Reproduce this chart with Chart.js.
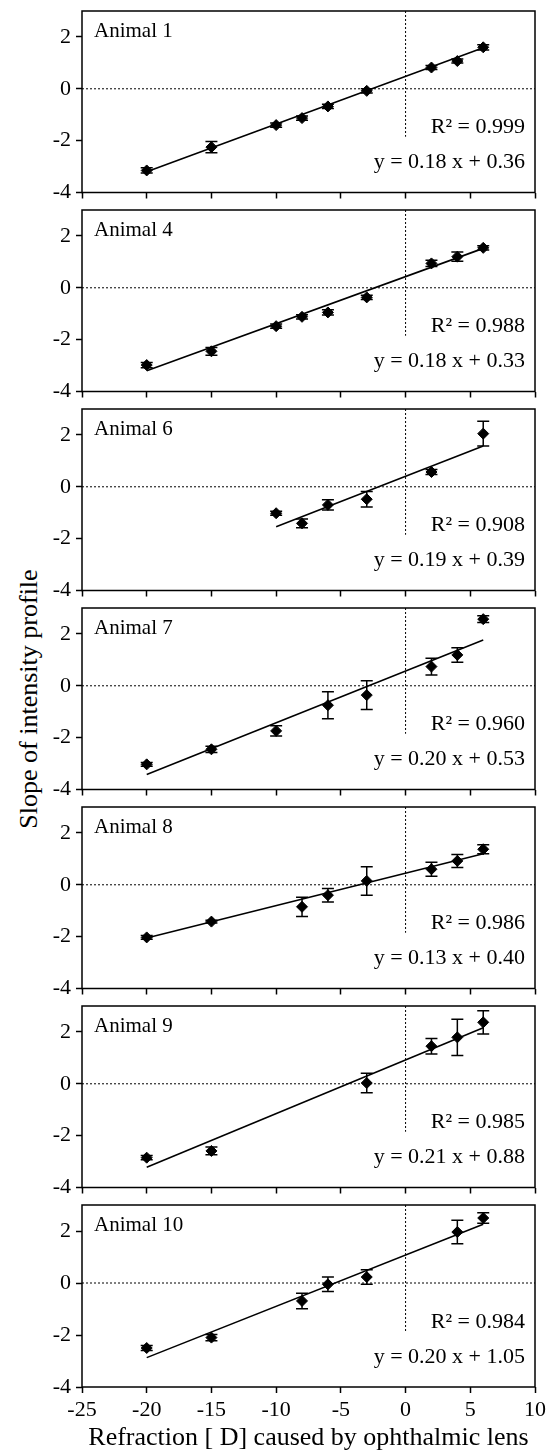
<!DOCTYPE html>
<html><head><meta charset="utf-8">
<script src="https://cdn.jsdelivr.net/npm/chart.js@4.4.1/dist/chart.umd.min.js"></script>
<style>
html,body{margin:0;padding:0;background:#fff;}
#wrap{position:relative;width:554px;height:1455px;overflow:hidden;background:#fff;}
canvas{position:absolute;left:0;}
#ytitle{position:absolute;font-family:"Liberation Serif","Times New Roman",serif;font-size:26px;white-space:nowrap;left:29px;top:699px;transform:translate(-50%,-50%) rotate(-90deg);color:#000;line-height:1;}
</style></head>
<body><div id="wrap"><div id="ytitle">Slope of intensity profile</div></div>
<script>
// ---- data ----
const animalNames = ['Animal 1','Animal 4','Animal 6','Animal 7','Animal 8','Animal 9','Animal 10'];
const r2Labels = ['R\u00B2 = 0.999','R\u00B2 = 0.988','R\u00B2 = 0.908','R\u00B2 = 0.960','R\u00B2 = 0.986','R\u00B2 = 0.985','R\u00B2 = 0.984'];
const eqLabels = ['y = 0.18 x + 0.36','y = 0.18 x + 0.33','y = 0.19 x + 0.39','y = 0.20 x + 0.53','y = 0.13 x + 0.40','y = 0.21 x + 0.88','y = 0.20 x + 1.05'];

const x1 = [-20,-15,-10,-8,-6,-3,2,4,6];
const y1 = [-3.15,-2.25,-1.40,-1.13,-0.68,-0.08,0.82,1.07,1.60];
const e1 = [0.10,0.22,0.08,0.08,0.08,0.08,0.08,0.08,0.10];

const x4 = [-20,-15,-10,-8,-6,-3,2,4,6];
const y4 = [-2.98,-2.45,-1.48,-1.12,-0.95,-0.37,0.94,1.20,1.54];
const e4 = [0.10,0.15,0.08,0.08,0.10,0.08,0.12,0.18,0.08];

const x6 = [-10,-8,-6,-3,2,6];
const y6 = [-1.02,-1.41,-0.70,-0.48,0.57,2.05];
const e6 = [0.08,0.17,0.20,0.30,0.10,0.48];

const x7 = [-20,-15,-10,-6,-3,2,4,6];
const y7 = [-3.03,-2.45,-1.74,-0.75,-0.36,0.74,1.19,2.57];
const e7 = [0.07,0.12,0.20,0.52,0.55,0.32,0.28,0.13];

const x8 = [-20,-15,-8,-6,-3,2,4,6];
const y8 = [-2.03,-1.42,-0.85,-0.40,0.15,0.60,0.92,1.37];
const e8 = [0.07,0.05,0.37,0.26,0.55,0.27,0.25,0.17];

const x9 = [-20,-15,-3,2,4,6];
const y9 = [-2.85,-2.59,0.03,1.45,1.79,2.37];
const e9 = [0.08,0.15,0.38,0.30,0.70,0.45];

const x10 = [-20,-15,-8,-6,-3,4,6];
const y10 = [-2.50,-2.10,-0.69,-0.05,0.23,1.96,2.50];
const e10 = [0.10,0.12,0.30,0.28,0.28,0.45,0.20];

// fitted trend line end points (x and y)
const fitX = [[-20,6],[-20,6],[-10,6],[-20,6],[-20,6],[-20,6],[-20,6]];
const fitY = [[-3.20,1.58],[-3.20,1.52],[-1.54,1.57],[-3.42,1.77],[-2.05,1.20],[-3.22,2.16],[-2.87,2.26]];

const xMin = -25, xMax = 10, xStep = 5;
const yMin = -4, yMax = 3, yStep = 1;
const xTitle = 'Refraction [ D] caused by ophthalmic lens';

const panelX = [x1,x4,x6,x7,x8,x9,x10];
const panelY = [y1,y4,y6,y7,y8,y9,y10];
const panelE = [e1,e4,e6,e7,e8,e9,e10];

// ---- drawing ----
const FONT = '"Liberation Serif","Times New Roman",serif';
Chart.defaults.font.family = FONT;
Chart.defaults.color = '#000';

const errorBarPlugin = {
  id: 'errbars',
  afterDatasetsDraw(chart) {
    const {ctx, scales:{x, y}} = chart;
    const ds = chart.data.datasets[3];
    const errs = ds.errors;
    ctx.save();
    ctx.strokeStyle = '#000';
    ctx.lineWidth = 1.5;
    ds.data.forEach((p, i) => {
      const px = x.getPixelForValue(p.x);
      const top = y.getPixelForValue(p.y + errs[i]);
      const bot = y.getPixelForValue(p.y - errs[i]);
      ctx.beginPath();
      ctx.moveTo(px, top); ctx.lineTo(px, bot);
      ctx.moveTo(px - 6, top); ctx.lineTo(px + 6, top);
      ctx.moveTo(px - 6, bot); ctx.lineTo(px + 6, bot);
      ctx.stroke();
    });
    ctx.restore();
  }
};

const framePlugin = {
  id: 'frame',
  afterDraw(chart, args, opts) {
    const {ctx, chartArea:a, scales:{y}} = chart;
    ctx.save();
    ctx.strokeStyle = '#000';
    ctx.lineWidth = 1.5;
    ctx.strokeRect(a.left, a.top, a.right - a.left, a.bottom - a.top);
    ctx.fillStyle = '#000';
    ctx.font = '21px ' + FONT;
    ctx.textBaseline = 'middle';
    ctx.textAlign = 'left';
    ctx.fillText(opts.name, a.left + 12, a.top + 20);
    ctx.font = '22px ' + FONT;
    ctx.textAlign = 'right';
    ctx.fillText(opts.r2, a.right - 10, y.getPixelForValue(-1.5));
    ctx.fillText(opts.eq, a.right - 10, y.getPixelForValue(-2.85));
    ctx.restore();
  }
};

const wrap = document.getElementById('wrap');
const PITCH = 199;
for (let i = 0; i < 7; i++) {
  const last = i === 6;
  const cv = document.createElement('canvas');
  const h = last ? 1455 - i * PITCH : PITCH;
  cv.width = 554; cv.height = h;
  cv.style.width = '554px'; cv.style.height = h + 'px';
  cv.style.top = (i * PITCH) + 'px';
  wrap.appendChild(cv);

  const pts = panelX[i].map((xv, k) => ({x: xv, y: panelY[i][k]}));
  new Chart(cv, {
    data: {
      datasets: [
        {type:'line', data:[{x:xMin,y:0},{x:xMax,y:0}], borderColor:'#000', borderWidth:1, borderDash:[2,2], pointRadius:0},
        {type:'line', data:[{x:0,y:yMax},{x:0,y:-1.85}], borderColor:'#000', borderWidth:1, borderDash:[2,2], pointRadius:0},
        {type:'line', data:[{x:fitX[i][0],y:fitY[i][0]},{x:fitX[i][1],y:fitY[i][1]}], borderColor:'#000', borderWidth:1.6, pointRadius:0},
        {type:'scatter', data:pts, errors:panelE[i], pointStyle:'rectRot', pointRadius:5.5, pointBackgroundColor:'#000', pointBorderColor:'#000', pointBorderWidth:1}
      ]
    },
    options: {
      responsive:false, animation:false, devicePixelRatio:1,
      layout:{padding:{top:11, right:19, left:0, bottom:0}},
      plugins:{legend:{display:false}, tooltip:{enabled:false},
        frame:{name:animalNames[i], r2:r2Labels[i], eq:eqLabels[i]}},
      scales:{
        x:{type:'linear', min:xMin, max:xMax,
          ticks:{stepSize:xStep, display:last, autoSkip:false, maxRotation:0, padding:4, font:{size:22}, color:'#000'},
          grid:{drawOnChartArea:false, drawTicks:true, tickLength:6, tickColor:'#000', tickWidth:1.5, color:'#000'},
          border:{display:false},
          title:{display:last, text:xTitle, font:{size:26}, color:'#000', padding:{top:0,bottom:1}},
          afterFit(s){ s.height = last ? (h - 11 - 182) : 6; s.paddingLeft = 0; s.paddingRight = 0; }
        },
        y:{type:'linear', min:yMin, max:yMax,
          ticks:{stepSize:yStep, padding:5, font:{size:22}, color:'#000',
            callback:(v) => (v % 2 === 0 ? String(v) : '')},
          grid:{drawOnChartArea:false, drawTicks:true, tickLength:6, tickColor:'#000', tickWidth:1.5, color:'#000'},
          border:{display:false},
          afterFit(s){ s.width = 82; s.paddingTop = 0; s.paddingBottom = 0; }
        }
      }
    },
    plugins:[errorBarPlugin, framePlugin]
  });
}
</script>
</body></html>
